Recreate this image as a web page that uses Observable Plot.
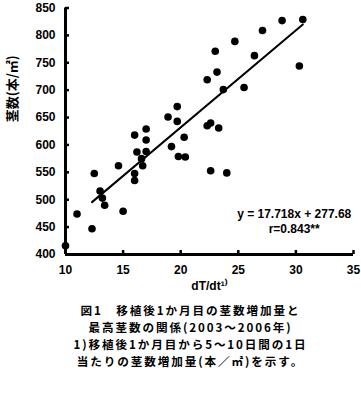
<!DOCTYPE html>
<html>
<head>
<meta charset="utf-8">
<script src="https://cdn.jsdelivr.net/npm/d3@7"></script>
<script src="https://cdn.jsdelivr.net/npm/@observablehq/plot@0.6"></script>
<style>
  body { margin: 0; background: #fff; }
  #caption {
    width: 341px; padding-left: 20px; text-align: center;
    font-family: "Noto Sans CJK JP", sans-serif; font-weight: bold;
    font-size: 11.6px; line-height: 17px; letter-spacing: 1.9px; color: #000;
  }
</style>
</head>
<body>
<div id="chart"></div>
<div id="caption"></div>
<script>
// dT/dt (x) and max stem count (y)
const dTdt = [10.0, 11.0, 12.3, 12.5, 13.0, 13.2, 13.4, 14.6, 15.0, 16.0, 16.0, 16.0, 16.2, 16.6, 16.7, 17.0, 17.0, 17.0, 18.9, 19.2, 19.7, 19.7, 19.8, 20.3, 20.4, 22.3, 22.6, 23.3, 22.6, 24.0, 22.3, 23.15, 23.0, 23.7, 25.5, 24.7, 26.4, 27.1, 28.8, 30.6, 30.3];
const stems = [416, 474, 447, 548, 516, 503, 490, 562, 479, 618, 548, 535, 587, 575, 562, 629, 609, 588, 651, 597, 670, 643, 579, 614, 578, 635, 640, 631, 553, 549, 719, 733, 771, 701, 705, 789, 763, 809, 827, 829, 744];
const slope = 17.718, intercept = 277.68;
const fitX = [12.3, 30.6];
const xTicks = [10, 15, 20, 25, 30, 35];
const yTicks = [400, 450, 500, 550, 600, 650, 700, 750, 800, 850];
const eqText = ["y = 17.718x + 277.68", "r=0.843**"];
const eqX = [29.85, 29.85];
const eqY = [474, 446];
const xLabel = "dT/dt¹⁾";
const yLabel = "茎数(本/㎡)";
const captionLines = [
  "図1　移植後1か月目の茎数増加量と",
  "最高茎数の関係(2003～2006年)",
  "1)移植後1か月目から5～10日間の1日",
  "当たりの茎数増加量(本／㎡)を示す。"
];

const pts = dTdt.map((x, i) => ({x, y: stems[i]}));
const fit = fitX.map(x => ({x, y: slope * x + intercept}));
const eq = eqText.map((t, i) => ({t, x: eqX[i], y: eqY[i]}));

const chart = Plot.plot({
  width: 361, height: 302,
  marginLeft: 65, marginRight: 8, marginTop: 7.5, marginBottom: 48,
  style: {fontFamily: "'Liberation Sans', Arial, sans-serif", fontWeight: "bold", fontSize: "12px", color: "#000", background: "#fff"},
  x: {domain: [10, 35]},
  y: {domain: [400, 850]},
  marks: [
    Plot.axisX({ticks: xTicks, tickSize: -4, tickPadding: 15, strokeWidth: 2.5, label: null, fontSize: 12}),
    Plot.axisY({ticks: yTicks, tickSize: -4, tickPadding: 14, strokeWidth: 2.5, label: null, fontSize: 12}),
    Plot.ruleX([10], {strokeWidth: 3}),
    Plot.ruleY([400], {strokeWidth: 3}),
    Plot.line(fit, {x: "x", y: "y", strokeWidth: 2}),
    Plot.dot(pts, {x: "x", y: "y", r: 3.8, fill: "#000", stroke: "none"}),
    Plot.text(eq, {x: "x", y: "y", text: "t", fontSize: 12, fontWeight: "bold"}),
    Plot.text([xLabel], {frameAnchor: "bottom", dy: 35, fontSize: 12, fontWeight: "bold"}),
    Plot.text([yLabel], {frameAnchor: "left", rotate: -90, dx: -53, dy: -9, fontSize: 13, fontWeight: "bold", fontFamily: "'Noto Sans CJK JP', sans-serif"})
  ]
});
document.getElementById("chart").appendChild(chart);
const cap = document.getElementById("caption");
captionLines.forEach(l => { const d = document.createElement("div"); d.textContent = l; cap.appendChild(d); });
</script>
</body>
</html>
